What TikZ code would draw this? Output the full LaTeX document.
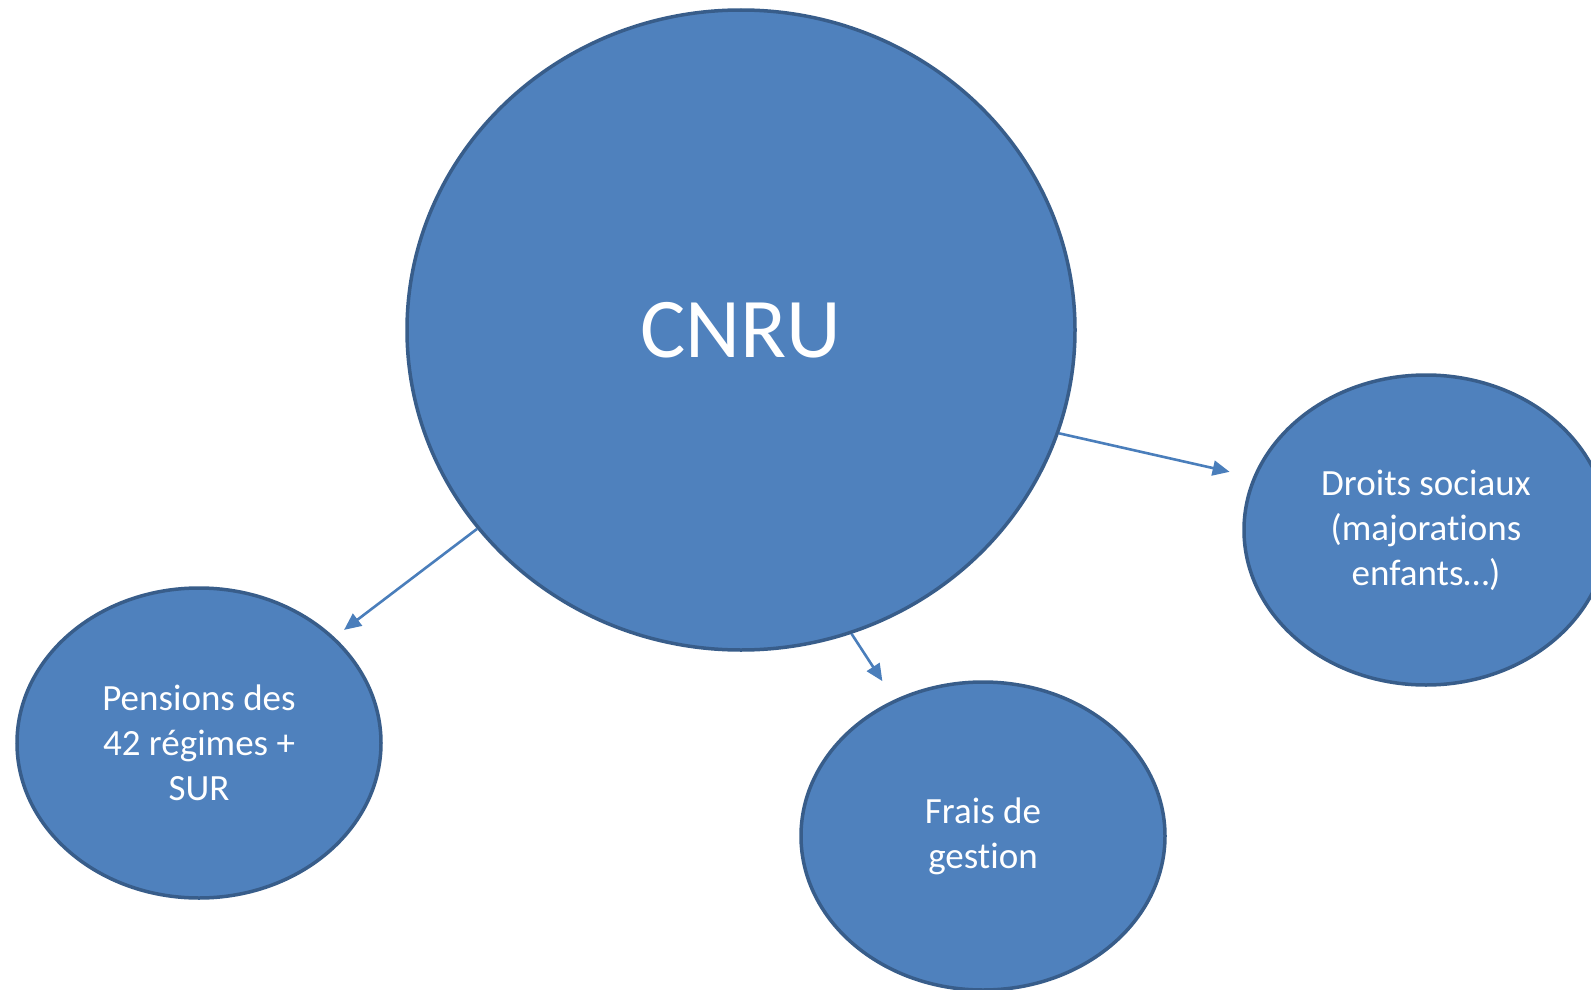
\documentclass[tikz,border=0pt]{standalone}
\usepackage{fontspec}
\setmainfont{Carlito}[Ligatures=NoCommon]
\usepackage{xcolor}
\usepackage{tikz}
\usetikzlibrary{positioning,shapes.geometric,arrows.meta}

\definecolor{bubblefill}{HTML}{4F81BD}
\definecolor{bubbleline}{HTML}{385D8A}
\definecolor{arrowcol}{HTML}{4A7EBB}

\begin{document}
\begin{tikzpicture}[
		x=1pt, y=-1pt,
		bubble/.style={ellipse, draw=bubbleline, fill=bubblefill, line width=3.5pt, inner sep=0pt,
			text=white, align=center, font=\fontsize{37}{45}\selectfont},
		link/.style={draw=arrowcol, line width=2.6pt, -{Triangle[length=17pt,width=15pt]}},
	]
		\useasboundingbox (0,0) rectangle (1591,990);

		% nodes
		\node[bubble, minimum width=668pt, minimum height=640pt, font=\fontsize{85}{100}\selectfont] (cnru) at (741,330) {CNRU};
		\node[bubble, minimum width=364pt, minimum height=310pt] (pensions) at (199,743) {Pensions des\\42 régimes +\\SUR};
		\node[bubble, minimum width=364pt, minimum height=308pt] (frais) at (983,836) {Frais de\\gestion};
		\node[bubble, minimum width=364pt, minimum height=310pt] (droits) at (1426,530) {Droits sociaux\\(majorations\\enfants…)};

		% lines
		\draw[link, shorten >=12pt] (cnru.217) -- (pensions.38);
		\draw[link, shorten >=22pt] (cnru.-70) -- (frais.123);
		\draw[link, shorten >=24pt] (cnru.-18) -- (droits.163);
	\end{tikzpicture}
\end{document}
